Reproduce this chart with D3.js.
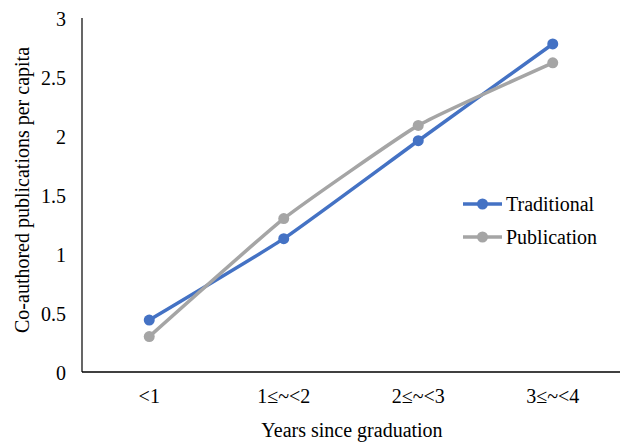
<!DOCTYPE html>
<html>
<head>
<meta charset="utf-8">
<script src="https://cdn.jsdelivr.net/npm/d3@7"></script>
<style>
  html, body { margin: 0; padding: 0; background: #fff; }
  svg text { font-family: "Liberation Serif", "Times New Roman", serif; fill: #000; }
</style>
</head>
<body>
<svg id="chart" width="623" height="442"></svg>
<script>
// Categories and series
const categories = ["<1", "1\u2264~<2", "2\u2264~<3", "3\u2264~<4"];
const traditional = [0.44, 1.13, 1.96, 2.78];
const publication = [0.30, 1.30, 2.09, 2.62];
const yTicks = [0, 0.5, 1, 1.5, 2, 2.5, 3];
const seriesNames = ["Traditional", "Publication"];
const seriesColors = ["#4472C4", "#A5A5A5"];

const svg = d3.select("#chart");
const margin = { left: 82, right: 3, top: 18, bottom: 70 };
const W = 623, H = 442;
const fs = "20px";

const x = d3.scaleBand().domain(categories).range([margin.left, W - margin.right]);
const y = d3.scaleLinear().domain([0, 3]).range([H - margin.bottom, margin.top]);

// Y axis: labels only, plus a plain axis line
const yAxis = d3.axisLeft(y).tickValues(yTicks).tickSize(0).tickPadding(16)
  .tickFormat(d3.format("~g"));
const gy = svg.append("g").attr("transform", `translate(${margin.left},0)`).call(yAxis);
gy.select(".domain").remove();
gy.selectAll("text").style("font-size", fs).attr("dy", "0.35em");
svg.append("line")
  .attr("x1", margin.left).attr("x2", margin.left)
  .attr("y1", y(3)).attr("y2", y(0))
  .attr("stroke", "#000").attr("stroke-width", 1.2);

// X axis
const xAxis = d3.axisBottom(x).tickSize(0).tickPadding(17);
const gx = svg.append("g").attr("transform", `translate(0,${y(0)})`).call(xAxis);
gx.select(".domain").remove();
gx.selectAll("text").style("font-size", fs);
svg.append("line")
  .attr("x1", margin.left).attr("x2", W - margin.right)
  .attr("y1", y(0)).attr("y2", y(0))
  .attr("stroke", "#000").attr("stroke-width", 1.5);

// Axis titles
svg.append("text")
  .attr("x", 352).attr("y", 437)
  .attr("text-anchor", "middle").style("font-size", fs)
  .text("Years since graduation");
svg.append("text")
  .attr("transform", "translate(29,190) rotate(-90)")
  .attr("text-anchor", "middle").style("font-size", fs)
  .text("Co-authored publications per capita");

// Lines and markers (lightly smoothed)
const cx = c => x(c) + x.bandwidth() / 2;
const line = d3.line()
  .x((d, i) => cx(categories[i]))
  .y(d => y(d))
  .curve(d3.curveCardinal.tension(0.6));

[traditional, publication].forEach((vals, s) => {
  const g = svg.append("g");
  g.append("path")
    .datum(vals)
    .attr("d", line)
    .attr("fill", "none")
    .attr("stroke", seriesColors[s])
    .attr("stroke-width", 3.5)
    .attr("stroke-linecap", "round");
  g.selectAll("circle").data(vals).join("circle")
    .attr("cx", (d, i) => cx(categories[i]))
    .attr("cy", d => y(d))
    .attr("r", 5.5)
    .attr("fill", seriesColors[s]);
});

// Legend
const legend = svg.append("g").attr("transform", "translate(463,204)");
seriesNames.forEach((name, i) => {
  const row = legend.append("g").attr("transform", `translate(0,${i * 33})`);
  row.append("line").attr("x1", 0).attr("x2", 39).attr("y1", 0).attr("y2", 0)
    .attr("stroke", seriesColors[i]).attr("stroke-width", 3.5);
  row.append("circle").attr("cx", 19.5).attr("cy", 0).attr("r", 5.5).attr("fill", seriesColors[i]);
  row.append("text").attr("x", 43).attr("y", 0).attr("dy", "0.35em")
    .style("font-size", fs).text(name);
});
</script>
</body>
</html>
